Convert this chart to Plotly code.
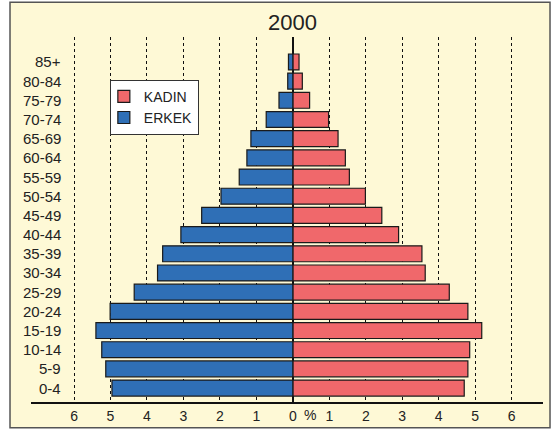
import plotly.graph_objects as go

age_groups = ["0-4", "5-9", "10-14", "15-19", "20-24", "25-29", "30-34", "35-39",
              "40-44", "45-49", "50-54", "55-59", "60-64", "65-69", "70-74",
              "75-79", "80-84", "85+"]
erkek = [4.96, 5.13, 5.24, 5.40, 5.01, 4.35, 3.71, 3.57, 3.07, 2.50, 1.97,
         1.47, 1.26, 1.15, 0.73, 0.38, 0.14, 0.12]
kadin = [4.70, 4.80, 4.85, 5.18, 4.80, 4.29, 3.63, 3.54, 2.90, 2.44, 1.99,
         1.55, 1.44, 1.24, 0.98, 0.46, 0.26, 0.17]
tick_vals = [-6, -5, -4, -3, -2, -1, 0, 1, 2, 3, 4, 5, 6]
tick_text = ["6", "5", "4", "3", "2", "1", "0", "1", "2", "3", "4", "5", "6"]
title_text = "2000"

BLUE = "#2F6FB6"
RED = "#F0686B"
CREAM = "#FEF9D6"
FONT = "Liberation Sans, Arial, sans-serif"

fig = go.Figure()
fig.add_trace(go.Bar(
    y=age_groups, x=kadin, orientation="h", name="KADIN",
    marker=dict(color=RED, line=dict(color="#1a1a1a", width=1.2)),
))
fig.add_trace(go.Bar(
    y=age_groups, x=[-v for v in erkek], orientation="h", name="ERKEK",
    marker=dict(color=BLUE, line=dict(color="#1a1a1a", width=1.2)),
))

# category labels (inside the plot area, right-aligned)
for g in age_groups:
    fig.add_annotation(x=-6.3, y=g, xref="x", yref="y", text=g, showarrow=False,
                       xanchor="right", yanchor="middle",
                       font=dict(family=FONT, size=15, color="#222"))

# percent sign next to zero
fig.add_annotation(x=0.48, y=0, xref="x", yref="paper", text="%", showarrow=False,
                   yanchor="top", yshift=-3, font=dict(family=FONT, size=14, color="#222"))

# title
fig.add_annotation(x=0, y=(404 - 22) / 367, xref="x", yref="paper", text=title_text,
                   showarrow=False, xanchor="center", yanchor="middle",
                   font=dict(family=FONT, size=22, color="#222"))

# outer frame: fill below, border above
fig.add_shape(type="rect", xref="paper", yref="paper",
              x0=-0.041, x1=1.0137, y0=-0.0708, y1=1.0954,
              fillcolor=CREAM, line=dict(width=0), layer="below")
fig.add_shape(type="rect", xref="paper", yref="paper",
              x0=-0.041, x1=1.0137, y0=-0.0708, y1=1.0954,
              fillcolor="rgba(0,0,0,0)", line=dict(color="#555", width=1.5), layer="above")

fig.update_layout(
    width=552, height=433,
    margin=dict(l=31, r=9, t=37, b=29),
    paper_bgcolor="white",
    plot_bgcolor=CREAM,
    barmode="overlay",
    bargap=0.17,
    font=dict(family=FONT, size=14, color="#222"),
    legend=dict(x=0.154, y=0.883, xanchor="left", yanchor="top",
                bgcolor="white", bordercolor="#333", borderwidth=1,
                font=dict(family=FONT, size=14, color="#222"),
                tracegroupgap=0, itemwidth=30, indentation=-7),
    xaxis=dict(range=[-7.18, 6.86], tickvals=tick_vals, ticktext=tick_text,
               showgrid=True, gridcolor="#111", griddash="dot", gridwidth=1,
               zeroline=True, zerolinecolor="#111", zerolinewidth=1.5,
               showline=True, linecolor="#111", linewidth=1.5,
               ticks="", tickfont=dict(family=FONT, size=14, color="#222")),
    yaxis=dict(range=[-0.726, 18.3], showticklabels=False, showgrid=False,
               zeroline=False, showline=False, ticks=""),
)

fig.write_html("out.html", config={"displayModeBar": False},
               post_script="document.body.style.margin='0';")
